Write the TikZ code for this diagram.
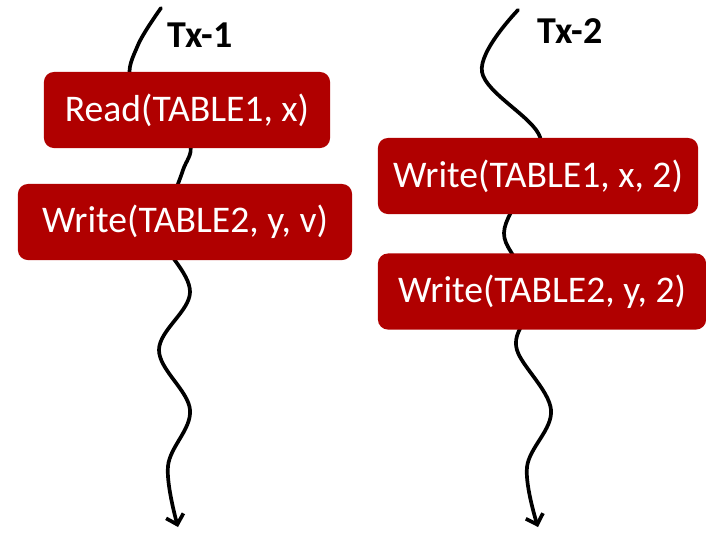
\documentclass[tikz,border=0pt]{standalone}
\usepackage{fontspec}
\setmainfont{Carlito}
\usetikzlibrary{arrows.meta}
\definecolor{opred}{HTML}{B00000}
\tikzset{
  opbox/.style={fill=opred,rounded corners=0.1cm,text=white,minimum height=0.76cm,
    inner sep=0pt,font=\fontsize{10.7}{12}\selectfont},
  txlabel/.style={font=\fontsize{10.8}{12}\selectfont\bfseries},
  timeline/.style={line width=1.05pt,line cap=round,-{Straight Barb[length=0.09cm,width=0.18cm,line width=1.05pt]}}
}
\begin{document}
\begin{tikzpicture}[x=0.01cm,y=-0.01cm]
\useasboundingbox (0,0) rectangle (706,532);
% time lines of the two transactions (drawn first, the boxes sit on top)
\draw[timeline] plot[smooth,tension=0.6] coordinates {(161,8) (138,45) (131,80) (165,115) (190,145)
  (183,170) (172,200) (160,235) (190,292) (159,350) (190,410) (168,466) (178,527)};
\draw[timeline] plot[smooth,tension=0.6] coordinates {(518,10) (482,72) (540,137) (522,190)
  (504,233) (520,270) (524,315) (517,350) (551,410) (527,467) (538,527)};
% labels
\node[txlabel] (tx1) at (200,35) {Tx-1};
\node[txlabel] (tx2) at (570,31) {Tx-2};
% operations of Tx-1
\node[opbox,minimum width=2.86cm] (read1) at (187,110) {Read(TABLE1, x)};
\node[opbox,minimum width=3.34cm] (write2) at (185,222) {Write(TABLE2, y, v)};
% operations of Tx-2
\node[opbox,minimum width=3.20cm] (write1b) at (538,176) {Write(TABLE1, x, 2)};
\node[opbox,minimum width=3.28cm] (write2b) at (542,291.5) {Write(TABLE2, y, 2)};
\end{tikzpicture}
\end{document}
